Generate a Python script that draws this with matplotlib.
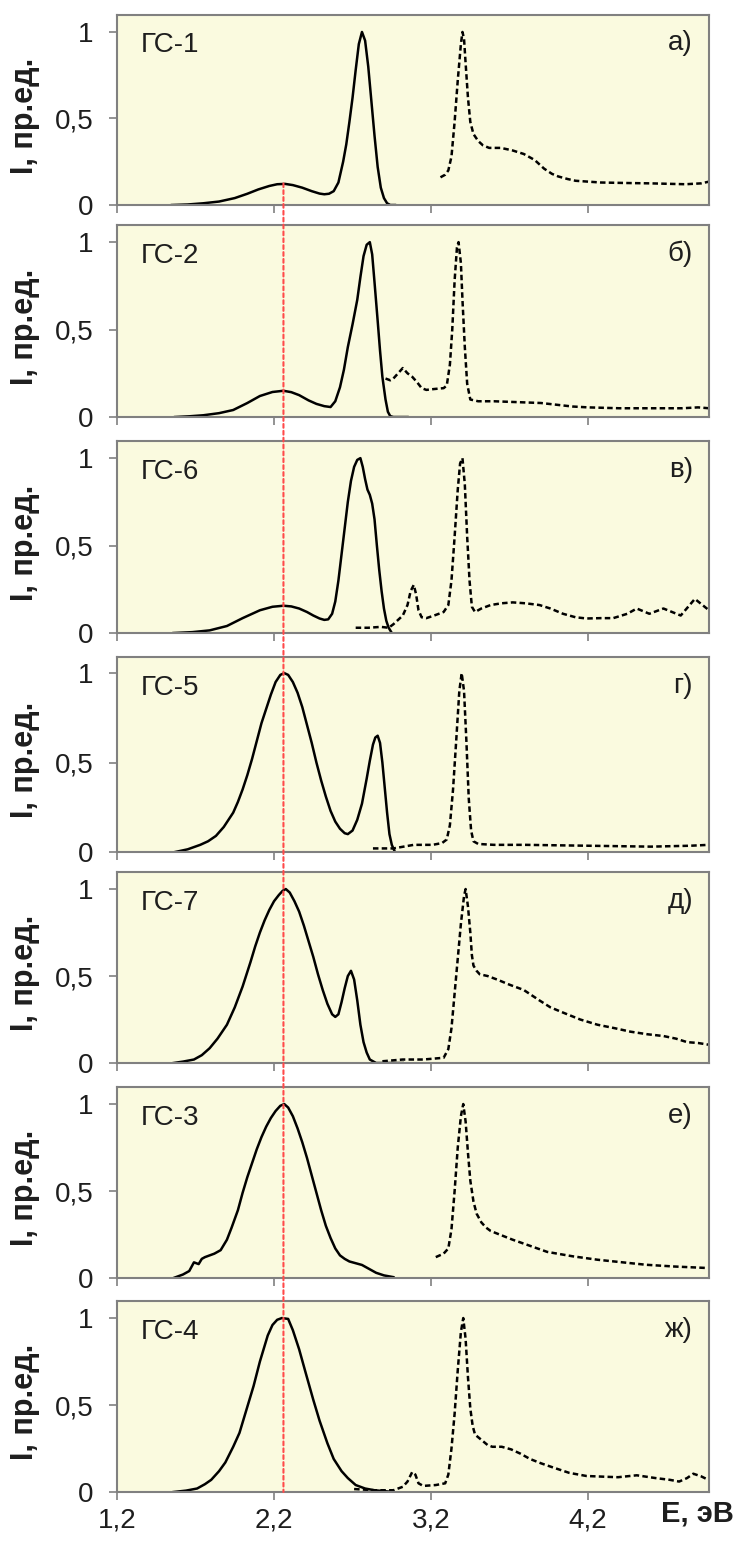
import matplotlib
matplotlib.use("Agg")
import matplotlib.pyplot as plt
from matplotlib.patches import ConnectionPatch

plt.rcParams["font.family"] = ["Liberation Sans", "DejaVu Sans"]

# --- data (E in eV, I normalised) ---
names = ["ГС-1", "ГС-2", "ГС-6", "ГС-5", "ГС-7", "ГС-3", "ГС-4"]
letters = ["а)", "б)", "в)", "г)", "д)", "е)", "ж)"]

gs1_solid_x = [1.55, 1.65, 1.75, 1.85, 1.95, 2.03, 2.10, 2.17, 2.22, 2.27, 2.32, 2.38, 2.44, 2.49, 2.52, 2.55,
               2.58, 2.61, 2.64, 2.66, 2.68, 2.70, 2.72, 2.74, 2.76, 2.78, 2.80, 2.82, 2.84, 2.86, 2.88, 2.90, 2.92, 2.94, 2.97]
gs1_solid_y = [0.0, 0.003, 0.01, 0.02, 0.04, 0.065, 0.09, 0.11, 0.12, 0.122, 0.115, 0.10, 0.08, 0.066, 0.062, 0.065,
               0.08, 0.13, 0.25, 0.35, 0.48, 0.62, 0.78, 0.93, 1.0, 0.95, 0.80, 0.60, 0.40, 0.22, 0.10, 0.04, 0.01, 0.0, 0.0]
gs1_dash_x = [3.26, 3.29, 3.31, 3.33, 3.35, 3.37, 3.39, 3.40, 3.41, 3.42, 3.435, 3.45, 3.47, 3.50, 3.53, 3.57, 3.645,
              3.72, 3.79, 3.86, 3.92, 3.97, 4.01, 4.07, 4.12, 4.20, 4.28, 4.45, 4.60, 4.82, 4.92, 4.97]
gs1_dash_y = [0.16, 0.175, 0.20, 0.28, 0.48, 0.72, 0.93, 1.0, 0.96, 0.82, 0.62, 0.48, 0.41, 0.37, 0.345, 0.33, 0.33,
              0.315, 0.295, 0.26, 0.21, 0.18, 0.165, 0.15, 0.14, 0.135, 0.13, 0.127, 0.125, 0.12, 0.125, 0.135]

gs2_solid_x = [1.57, 1.66, 1.75, 1.85, 1.94, 2.03, 2.11, 2.19, 2.26, 2.31, 2.36, 2.42, 2.47, 2.52, 2.56, 2.59, 2.62,
               2.645, 2.67, 2.70, 2.73, 2.75, 2.77, 2.79, 2.81, 2.825, 2.84, 2.86, 2.875, 2.89, 2.91, 2.925, 2.94, 2.96, 3.05]
gs2_solid_y = [0.0, 0.004, 0.01, 0.022, 0.04, 0.08, 0.12, 0.143, 0.15, 0.142, 0.125, 0.095, 0.075, 0.062, 0.057, 0.09, 0.17,
               0.27, 0.40, 0.53, 0.67, 0.80, 0.92, 0.985, 1.0, 0.93, 0.77, 0.55, 0.38, 0.23, 0.10, 0.03, 0.005, 0.0, 0.0]
gs2_dash_x = [2.91, 2.94, 2.96, 2.99, 3.02, 3.05, 3.08, 3.11, 3.14, 3.17, 3.22, 3.28, 3.30, 3.32, 3.335, 3.35, 3.365,
              3.375, 3.39, 3.40, 3.415, 3.43, 3.45, 3.50, 3.60, 3.75, 3.90, 4.00, 4.10, 4.20, 4.40, 4.60, 4.80, 4.90, 4.97]
gs2_dash_y = [0.22, 0.21, 0.22, 0.25, 0.28, 0.25, 0.23, 0.20, 0.165, 0.155, 0.16, 0.165, 0.18, 0.30, 0.50, 0.78, 0.97,
              1.0, 0.88, 0.67, 0.40, 0.19, 0.10, 0.09, 0.09, 0.085, 0.08, 0.07, 0.06, 0.055, 0.05, 0.05, 0.05, 0.055, 0.05]

gs6_solid_x = [1.56, 1.68, 1.79, 1.90, 2.00, 2.11, 2.19, 2.26, 2.31, 2.36, 2.41, 2.45, 2.49, 2.52, 2.545, 2.57, 2.59,
               2.61, 2.63, 2.65, 2.67, 2.69, 2.71, 2.73, 2.75, 2.765, 2.78, 2.795, 2.81, 2.825, 2.84, 2.855, 2.87,
               2.885, 2.90, 2.915, 2.93, 2.95]
gs6_solid_y = [0.0, 0.005, 0.015, 0.04, 0.085, 0.13, 0.15, 0.156, 0.152, 0.14, 0.12, 0.10, 0.083, 0.075, 0.078, 0.11, 0.18,
               0.30, 0.45, 0.60, 0.75, 0.87, 0.95, 0.99, 1.0, 0.95, 0.88, 0.82, 0.79, 0.74, 0.65, 0.50, 0.36,
               0.24, 0.14, 0.07, 0.03, 0.0]
gs6_dash_x = [2.72, 2.80, 2.88, 2.93, 2.96, 2.99, 3.02, 3.05, 3.07, 3.09, 3.105, 3.12, 3.14, 3.17, 3.22, 3.28, 3.31,
              3.33, 3.35, 3.37, 3.385, 3.40, 3.415, 3.43, 3.445, 3.46, 3.48, 3.52, 3.58, 3.65, 3.72, 3.80, 3.89,
              3.96, 4.04, 4.12, 4.19, 4.28, 4.36, 4.45, 4.51, 4.59, 4.68, 4.79, 4.88, 4.97]
gs6_dash_y = [0.03, 0.03, 0.035, 0.03, 0.05, 0.075, 0.10, 0.16, 0.24, 0.275, 0.22, 0.13, 0.09, 0.085, 0.10, 0.12, 0.16,
              0.30, 0.55, 0.82, 0.97, 1.0, 0.85, 0.55, 0.30, 0.15, 0.12, 0.14, 0.16, 0.17, 0.175, 0.17, 0.16,
              0.14, 0.11, 0.09, 0.083, 0.085, 0.085, 0.11, 0.14, 0.11, 0.14, 0.10, 0.195, 0.13]

gs5_solid_x = [1.57, 1.65, 1.73, 1.78, 1.83, 1.88, 1.94, 1.97, 2.00, 2.03, 2.06, 2.09, 2.12, 2.15, 2.18, 2.21, 2.24,
               2.265, 2.29, 2.32, 2.35, 2.38, 2.41, 2.44, 2.47, 2.50, 2.53, 2.56, 2.59, 2.62, 2.65, 2.67, 2.70,
               2.73, 2.76, 2.79, 2.81, 2.83, 2.845, 2.86, 2.875, 2.89, 2.905, 2.92, 2.935, 2.95, 2.97]
gs5_solid_y = [0.0, 0.015, 0.04, 0.06, 0.09, 0.14, 0.22, 0.28, 0.35, 0.43, 0.52, 0.62, 0.72, 0.80, 0.88, 0.95, 0.99,
               1.0, 0.99, 0.95, 0.89, 0.81, 0.71, 0.61, 0.50, 0.40, 0.31, 0.23, 0.17, 0.13, 0.105, 0.10, 0.12,
               0.18, 0.27, 0.41, 0.51, 0.60, 0.64, 0.65, 0.61, 0.50, 0.36, 0.22, 0.10, 0.04, 0.0]
gs5_dash_x = [2.83, 2.96, 3.09, 3.21, 3.27, 3.30, 3.32, 3.34, 3.36, 3.38, 3.395, 3.41, 3.425, 3.44, 3.455, 3.47,
              3.50, 3.60, 3.80, 4.20, 4.60, 4.85, 4.97]
gs5_dash_y = [0.02, 0.02, 0.04, 0.04, 0.05, 0.07, 0.15, 0.35, 0.62, 0.90, 1.0, 0.90, 0.62, 0.30, 0.12, 0.06,
              0.045, 0.04, 0.04, 0.035, 0.03, 0.035, 0.04]

gs7_solid_x = [1.56, 1.62, 1.69, 1.74, 1.79, 1.84, 1.90, 1.95, 2.00, 2.05, 2.08, 2.11, 2.14, 2.17, 2.20, 2.23, 2.255,
               2.275, 2.30, 2.33, 2.36, 2.39, 2.42, 2.45, 2.48, 2.51, 2.54, 2.57, 2.59, 2.61, 2.63, 2.65, 2.67,
               2.69, 2.71, 2.73, 2.75, 2.77, 2.79, 2.81, 2.85, 3.02]
gs7_solid_y = [0.0, 0.008, 0.02, 0.045, 0.085, 0.14, 0.22, 0.32, 0.44, 0.58, 0.67, 0.75, 0.82, 0.88, 0.93, 0.965, 0.99,
               1.0, 0.98, 0.93, 0.87, 0.79, 0.70, 0.61, 0.51, 0.42, 0.34, 0.28, 0.265, 0.28, 0.35, 0.43, 0.50,
               0.53, 0.48, 0.36, 0.22, 0.12, 0.06, 0.02, 0.0, 0.0]
gs7_dash_x = [2.89, 3.02, 3.15, 3.28, 3.31, 3.33, 3.35, 3.37, 3.39, 3.41, 3.42, 3.435, 3.45, 3.46, 3.47, 3.49, 3.51,
              3.56, 3.62, 3.70, 3.79, 3.84, 3.89, 3.96, 4.04, 4.15, 4.26, 4.37, 4.47, 4.58, 4.68, 4.76, 4.83, 4.90, 4.97]
gs7_dash_y = [0.01, 0.02, 0.02, 0.03, 0.08, 0.20, 0.40, 0.60, 0.80, 0.96, 1.0, 0.90, 0.75, 0.62, 0.56, 0.53, 0.51,
              0.50, 0.48, 0.45, 0.42, 0.39, 0.36, 0.32, 0.29, 0.25, 0.22, 0.20, 0.18, 0.165, 0.155, 0.14, 0.12, 0.115, 0.105]

gs3_solid_x = [1.56, 1.62, 1.66, 1.69, 1.72, 1.74, 1.76, 1.79, 1.82, 1.86, 1.90, 1.93, 1.97, 2.00, 2.03, 2.06, 2.09,
               2.12, 2.15, 2.18, 2.21, 2.24, 2.265, 2.29, 2.32, 2.35, 2.38, 2.41, 2.44, 2.47, 2.50, 2.53, 2.56,
               2.59, 2.62, 2.65, 2.68, 2.72, 2.76, 2.80, 2.85, 2.90, 2.96]
gs3_solid_y = [0.0, 0.02, 0.04, 0.09, 0.08, 0.11, 0.12, 0.13, 0.14, 0.16, 0.22, 0.29, 0.39, 0.49, 0.58, 0.66, 0.74,
               0.81, 0.87, 0.92, 0.96, 0.99, 1.0, 0.98, 0.93, 0.86, 0.78, 0.69, 0.59, 0.49, 0.39, 0.30, 0.23,
               0.17, 0.13, 0.11, 0.095, 0.085, 0.075, 0.055, 0.03, 0.015, 0.005]
gs3_dash_x = [3.23, 3.28, 3.31, 3.33, 3.35, 3.37, 3.39, 3.405, 3.42, 3.435, 3.45, 3.47, 3.49, 3.52, 3.55, 3.58, 3.65,
              3.72, 3.83, 3.94, 4.10, 4.26, 4.42, 4.57, 4.75, 4.97]
gs3_dash_y = [0.12, 0.14, 0.17, 0.28, 0.50, 0.75, 0.93, 1.0, 0.90, 0.72, 0.56, 0.44, 0.37, 0.32, 0.29, 0.27, 0.245,
              0.22, 0.185, 0.15, 0.125, 0.105, 0.09, 0.076, 0.066, 0.057]

gs4_solid_x = [1.56, 1.64, 1.71, 1.76, 1.80, 1.85, 1.89, 1.94, 1.98, 2.02, 2.07, 2.11, 2.16, 2.19, 2.22, 2.25, 2.29,
               2.32, 2.36, 2.40, 2.45, 2.49, 2.54, 2.58, 2.63, 2.67, 2.72, 2.78, 2.84, 2.96]
gs4_solid_y = [0.0, 0.008, 0.02, 0.045, 0.07, 0.12, 0.17, 0.26, 0.34, 0.46, 0.61, 0.75, 0.90, 0.96, 0.99, 1.0, 0.995,
               0.93, 0.82, 0.69, 0.53, 0.41, 0.28, 0.19, 0.12, 0.08, 0.04, 0.02, 0.01, 0.0]
gs4_dash_x = [2.71, 2.84, 2.96, 3.02, 3.05, 3.08, 3.10, 3.12, 3.15, 3.23, 3.29, 3.31, 3.33, 3.35, 3.37, 3.39, 3.405,
              3.42, 3.435, 3.45, 3.465, 3.48, 3.52, 3.56, 3.59, 3.65, 3.71, 3.77, 3.83, 3.90, 3.98, 4.08, 4.19,
              4.30, 4.39, 4.51, 4.63, 4.72, 4.78, 4.83, 4.87, 4.92, 4.97]
gs4_dash_y = [0.017, 0.01, 0.01, 0.03, 0.06, 0.115, 0.10, 0.05, 0.035, 0.04, 0.05, 0.10, 0.25, 0.45, 0.70, 0.92, 1.0,
              0.88, 0.66, 0.48, 0.38, 0.33, 0.30, 0.27, 0.26, 0.26, 0.245, 0.22, 0.19, 0.165, 0.14, 0.11, 0.092,
              0.088, 0.085, 0.096, 0.08, 0.07, 0.06, 0.08, 0.105, 0.09, 0.068]

solid = [(gs1_solid_x, gs1_solid_y), (gs2_solid_x, gs2_solid_y), (gs6_solid_x, gs6_solid_y),
         (gs5_solid_x, gs5_solid_y), (gs7_solid_x, gs7_solid_y), (gs3_solid_x, gs3_solid_y),
         (gs4_solid_x, gs4_solid_y)]
dashed = [(gs1_dash_x, gs1_dash_y), (gs2_dash_x, gs2_dash_y), (gs6_dash_x, gs6_dash_y),
          (gs5_dash_x, gs5_dash_y), (gs7_dash_x, gs7_dash_y), (gs3_dash_x, gs3_dash_y),
          (gs4_dash_x, gs4_dash_y)]

x_ticks = [1.2, 2.2, 3.2, 4.2]
x_tick_labels = ["1,2", "2,2", "3,2", "4,2"]
y_ticks = [0, 0.5, 1]
y_tick_labels = ["0", "0,5", "1"]
e_mark = 2.26  # red reference line

# --- layout (pixels) ---
W, H = 736, 1544
left_px, right_px = 117, 709
tops_px = [15, 225, 441, 657, 872, 1087, 1301]
bottoms_px = [205, 417, 633, 852, 1063, 1278, 1492]

bg = "#fafadf"
spine_c = "#808080"
txt_c = "#1e1e1e"

fig = plt.figure(figsize=(W / 100, H / 100), dpi=100)
axes = []
for i in range(7):
    t, b = tops_px[i], bottoms_px[i]
    ax = fig.add_axes([left_px / W, 1 - b / H, (right_px - left_px) / W, (b - t) / H])
    ax.set_facecolor(bg)
    sx, sy = solid[i]
    dx, dy = dashed[i]
    ax.plot(sx, sy, color="black", lw=1.8, solid_joinstyle="round")
    ax.plot(dx, dy, color="black", lw=1.8, linestyle=(0, (2.2, 1.3)))
    ax.set_xlim(1.2, 4.97)
    ax.set_ylim(0, 1.098 if i != 3 else 1.09)
    ax.set_xticks(x_ticks)
    ax.set_yticks(y_ticks)
    ax.set_yticklabels(y_tick_labels)
    if i == 6:
        ax.set_xticklabels(x_tick_labels)
    else:
        ax.set_xticklabels([])
    for sp in ax.spines.values():
        sp.set_color(spine_c)
        sp.set_linewidth(1.5)
    ax.tick_params(direction="out", length=6, width=1.2, color=spine_c,
                   labelsize=20, labelcolor=txt_c)
    ax.tick_params(axis="y", pad=11)
    ax.tick_params(axis="x", pad=5)
    ax.text(-0.155, 0.47, "I, пр.ед.", transform=ax.transAxes, rotation=90,
            ha="center", va="center", fontsize=22, fontweight="bold", color=txt_c)
    ax.text(0.04, 0.84, names[i], transform=ax.transAxes, ha="left", va="center",
            fontsize=20, color=txt_c)
    ax.text(0.973, 0.85, letters[i], transform=ax.transAxes, ha="right", va="center",
            fontsize=20, color=txt_c)
    axes.append(ax)

axes[-1].text(1.042, -0.115, "E, эВ", transform=axes[-1].transAxes, ha="right", va="center",
              fontsize=21, fontweight="bold", color=txt_c)

con = ConnectionPatch(xyA=(e_mark, 0.125), coordsA=axes[0].transData,
                      xyB=(e_mark, 0.0), coordsB=axes[-1].transData,
                      color="#ff4a4a", lw=1.5, linestyle=(0, (1.8, 1.5)), zorder=5)
fig.add_artist(con)

fig.savefig("out.png", dpi=100)
